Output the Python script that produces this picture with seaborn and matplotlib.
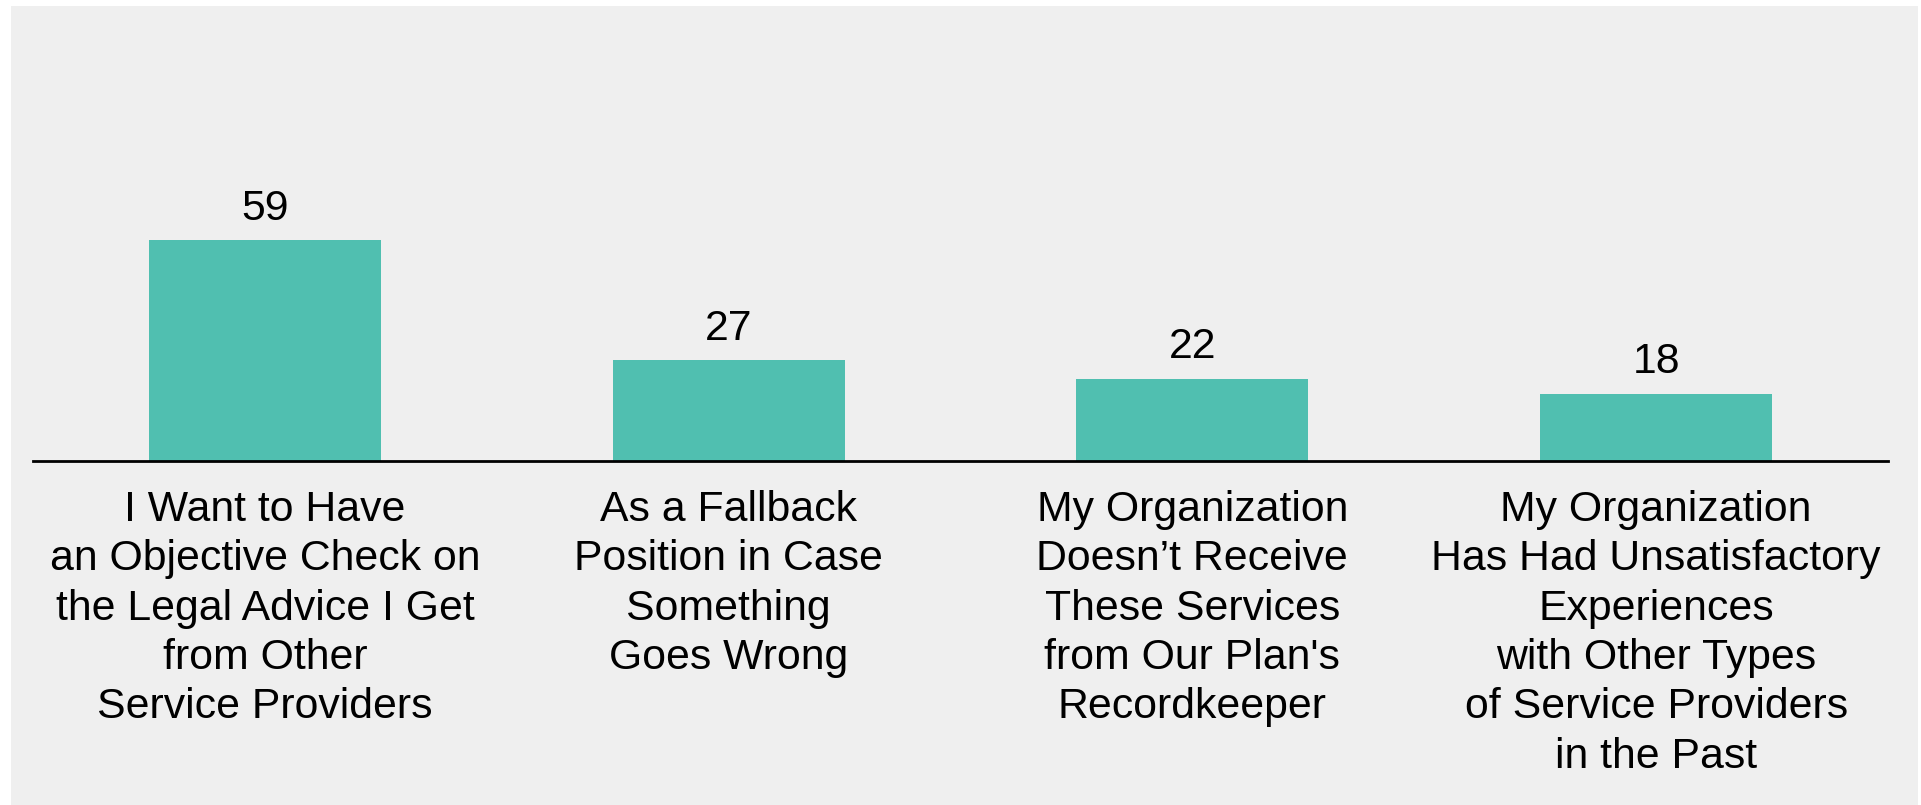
import matplotlib
matplotlib.use("Agg")
import matplotlib.pyplot as plt
import seaborn as sns
import pandas as pd
from matplotlib.patches import Rectangle

# Survey reasons and share of respondents (%)
categories = [
    "I Want to Have\nan Objective Check on\nthe Legal Advice I Get\nfrom Other\nService Providers",
    "As a Fallback\nPosition in Case\nSomething\nGoes Wrong",
    "My Organization\nDoesn\u2019t Receive\nThese Services\nfrom Our Plan's\nRecordkeeper",
    "My Organization\nHas Had Unsatisfactory\nExperiences\nwith Other Types\nof Service Providers\nin the Past",
]
values = [59, 27, 22, 18]

BAR_COLOR = "#50bfb0"
PANEL_COLOR = "#efefef"
FONT_SIZE = 30.8

sns.set_theme(style="white")
plt.rcParams["font.family"] = ["Liberation Sans", "DejaVu Sans"]

W, H = 1921, 805
fig = plt.figure(figsize=(W / 100, H / 100), dpi=100, facecolor="white")

# light grey panel behind the chart
panel = Rectangle((11 / W, 0), (1918 - 11) / W, (H - 6) / H,
                  transform=fig.transFigure, facecolor=PANEL_COLOR,
                  edgecolor="none", zorder=-10)
fig.add_artist(panel)

base_y = 461
top_y = 30
ax = fig.add_axes([33 / W, (H - base_y) / H, (1888 - 33) / W, (base_y - top_y) / H])
ax.set_facecolor("none")
ax.set_zorder(1)

df = pd.DataFrame({"reason": categories, "pct": values})
sns.barplot(data=df, x="reason", y="pct", color=BAR_COLOR, saturation=1,
            width=0.5, linewidth=0, ax=ax)

ax.set_xlim(-0.5, 3.5)
ax.set_ylim(0, (base_y - top_y) / 3.746)

ax.bar_label(ax.containers[0], labels=[str(v) for v in values], padding=8,
             fontsize=FONT_SIZE, color="black")

for s in ["top", "right", "left"]:
    ax.spines[s].set_visible(False)
ax.spines["bottom"].set_color("black")
ax.spines["bottom"].set_linewidth(2)

ax.set_yticks([])
ax.set_xlabel("")
ax.set_ylabel("")
ax.tick_params(axis="x", length=0, pad=21)
for lbl in ax.get_xticklabels():
    lbl.set_fontsize(FONT_SIZE)
    lbl.set_color("black")
    lbl.set_linespacing(1.30)
    lbl.set_ha("center")

fig.savefig("out.png", dpi=100, facecolor="white")
